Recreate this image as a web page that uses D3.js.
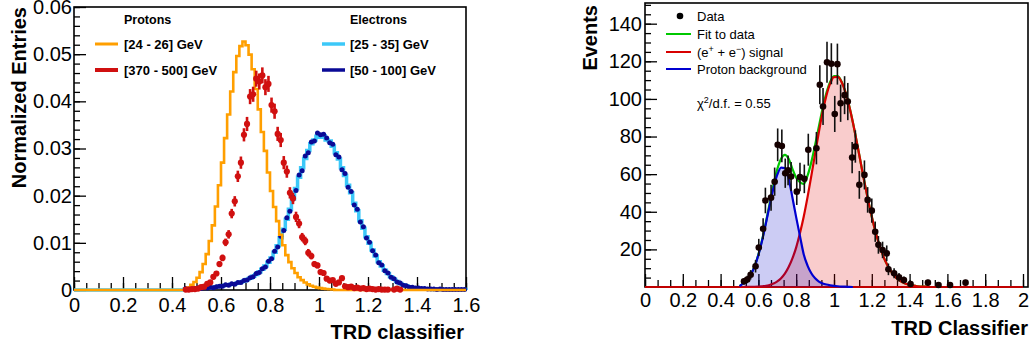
<!DOCTYPE html>
<html>
<head>
<meta charset="utf-8">
<script src="https://cdn.jsdelivr.net/npm/d3@7"></script>
<style>
html, body { margin: 0; padding: 0; background: #fff; }
svg { display: block; font-family: "Liberation Sans", Arial, Helvetica, sans-serif; }
</style>
</head>
<body>
<script>
// ---------- left panel: normalized TRD classifier histograms ----------
// all left histograms share bins of 0.0125 starting at 0.45
const binStart = 0.45;
const binWidth = 0.0125;

// protons [24 - 26] GeV (step histogram)
const protonLow = [0.0002,0.0005,0.0011,0.0017,0.0026,0.0038,0.0055,0.0076,0.0104,0.0137,
  0.0177,0.0222,0.0270,0.0322,0.0372,0.0421,0.0462,0.0496,0.0517,0.0527,
  0.0519,0.0499,0.0468,0.0426,0.0383,0.0335,0.0295,0.0249,0.0210,0.0176,
  0.0146,0.0117,0.0095,0.0074,0.0059,0.0046,0.0036,0.0027,0.0021,0.0016,
  0.0012,0.0009,0.0007,0.0005,0.0004,0.0003,0.0002,0.00015,0.0001];

// protons [370 - 500] GeV (points with errors)
const protonHigh = [0.0001,0.0001,0.0002,0.0002,0.0003,0.0006,0.0007,0.0013,0.0016,0.0028,
  0.0035,0.0055,0.0068,0.0101,0.0118,0.0162,0.0188,0.0241,0.0270,0.0329,
  0.0352,0.0410,0.0415,0.0448,0.0442,0.0455,0.0430,0.0437,0.0392,0.0379,
  0.0331,0.0318,0.0270,0.0251,0.0206,0.0194,0.0155,0.0141,0.0112,0.0104,
  0.0079,0.0072,0.0055,0.0052,0.0038,0.0036,0.0024,0.0020,0.0021,0.0013,
  0.0016,0.0025,0.0008,0.0006,0.0007,0.0004,0.0005,0.0003,0.0004,0.0002,
  0.0003,0.0002,0.0001,0.0002,0.0001,0.0001,0.0001,0,0.0001,0.0003,0.0001];
const protonHighErr = [0.0001,0.0001,0.0001,0.0001,0.0002,0.0002,0.0003,0.0004,0.0004,0.0005,
  0.0005,0.0006,0.0007,0.0008,0.0009,0.0010,0.0011,0.0012,0.0013,0.0014,
  0.0015,0.0016,0.0016,0.0017,0.0017,0.0017,0.0017,0.0017,0.0016,0.0016,
  0.0015,0.0015,0.0014,0.0013,0.0012,0.0012,0.0011,0.0010,0.0009,0.0009,
  0.0008,0.0007,0.0006,0.0006,0.0005,0.0005,0.0004,0.0004,0.0004,0.0003,
  0.0003,0.0004,0.0002,0.0002,0.0002,0.0001,0.0002,0.0001,0.0001,0.0001,
  0.0001,0.0001,0.0001,0.0001,0.0001,0.0001,0.0001,0,0.0001,0.0002,0.0001];

// electrons [25 - 35] GeV (step histogram)
const electronLow = [0.0002,0.0002,0.0003,0.0003,0.0003,0.0004,0.0004,0.0005,0.0005,0.0006,
  0.0007,0.0008,0.0009,0.0010,0.0011,0.0012,0.0013,0.0015,0.0017,0.0019,
  0.0022,0.0025,0.0029,0.0033,0.0038,0.0044,0.0051,0.0059,0.0068,0.0080,
  0.0094,0.0111,0.0129,0.0150,0.0171,0.0193,0.0215,0.0239,0.0259,0.0279,
  0.0296,0.0310,0.0318,0.0326,0.0324,0.0327,0.0318,0.0316,0.0305,0.0291,
  0.0278,0.0259,0.0243,0.0222,0.0206,0.0184,0.0168,0.0147,0.0131,0.0113,
  0.0099,0.0085,0.0072,0.0060,0.0051,0.0042,0.0035,0.0028,0.0023,0.0018,
  0.0014,0.0011,0.0009,0.0007,0.0005,0.0004,0.0003,0.0003,0.0002,0.0002,
  0.0002,0.0001,0.0001,0.0001,0.0001,0.0001,0.0001,0.0001,0.0001,0.0001,0.0001,0.0001];

// electrons [50 - 100] GeV (points)
const electronHigh = [0.0003,0.0002,0.0002,0.0003,0.0004,0.0003,0.0005,0.0004,0.0006,0.0005,
  0.0007,0.0008,0.0008,0.0011,0.0010,0.0013,0.0012,0.0016,0.0016,0.0020,
  0.0021,0.0026,0.0028,0.0035,0.0037,0.0045,0.0049,0.0061,0.0066,0.0082,
  0.0091,0.0114,0.0126,0.0153,0.0167,0.0197,0.0211,0.0244,0.0253,0.0284,
  0.0291,0.0314,0.0316,0.0333,0.0329,0.0330,0.0322,0.0312,0.0309,0.0287,
  0.0282,0.0255,0.0247,0.0218,0.0209,0.0180,0.0171,0.0144,0.0134,0.0110,
  0.0101,0.0083,0.0074,0.0058,0.0053,0.0041,0.0036,0.0027,0.0024,0.0017,
  0.0015,0.0010,0.0009,0.0006,0.0006,0.0004,0.0004,0.0003,0.0003,0.0002,
  0.0002,0.0002,0.0001,0.0002,0.0001,0.0001,0.0001,0.0001,0.0001,0.0001,0.0001,0.0001];

const leftXTicks = [0, 0.2, 0.4, 0.6, 0.8, 1, 1.2, 1.4, 1.6];
const leftYTicks = [0, 0.01, 0.02, 0.03, 0.04, 0.05, 0.06];

// ---------- right panel: fit of TRD classifier ----------
const dataX = [0.524,0.541,0.559,0.585,0.602,0.625,0.637,0.667,0.686,0.702,
  0.724,0.742,0.757,0.773,0.803,0.820,0.843,0.864,0.907,0.925,
  0.942,0.963,0.986,1.004,1.018,1.035,1.056,1.073,1.096,1.113,
  1.134,1.161,1.178,1.200,1.218,1.235,1.257,1.279,1.288,1.318,
  1.344,1.370,1.405,1.497,1.553,1.614,1.696];
const dataY = [3,4,6.5,11,21,31,46,47.5,56,75.6,
  75,60.5,62,58.7,50.7,58.5,57.5,73,73.8,107.5,
  96,119.5,118.7,92,118.5,97.7,102,98.6,68.8,74.7,
  54.3,59.6,46.3,40.6,29.4,22.4,19.7,17.9,9.4,7.3,
  5.2,3.7,1.6,2.3,1.1,1.1,2.3];
const dataErr = [1.7,2,2.5,3.3,4.6,5.6,6.8,6.9,7.5,8.7,
  8.7,7.8,7.9,7.7,7.1,7.6,7.6,8.5,8.6,10.4,
  9.8,10.9,10.9,9.6,10.9,9.9,10.1,9.9,8.3,8.6,
  7.4,7.7,6.8,6.4,5.4,4.7,4.4,4.2,3.1,2.7,
  2.3,1.9,1.3,1.5,1,1,1.5];

// fit curves sampled every 0.02
const fitGrid = d3.range(0.50, 1.5001, 0.02);
const signalFit = [0,0,0.03,0.05,0.1,0.2,0.4,0.6,1.1,1.8,
  3.0,4.7,7.1,10.6,15.2,21.1,28.7,37.5,47.8,59.1,
  70.9,82.4,93.1,101.9,108.3,111.6,111.7,109.0,103.8,96.4,
  87.5,77.4,66.9,56.3,46.4,37.3,29.1,22.4,16.6,12.1,
  8.6,5.9,4.0,2.7,1.7,1.1,0.7,0.4,0.25,0.15,0.1];
const totalFit = [0.5,2.0,3.83,6.75,11.1,17.3,25.3,34.6,44.7,54.5,
  62.7,68.2,70.3,68.2,62.8,58.1,55.7,54.8,59.2,66.4,
  75.5,85.3,95.0,103.2,109.2,112.2,112.1,109.25,103.95,96.5,
  87.5,77.4,66.9,56.3,46.4,37.3,29.1,22.4,16.6,12.1,
  8.6,5.9,4.0,2.7,1.7,1.1,0.7,0.4,0.25,0.15,0.1];
const bkgFit = [0.5,2.0,3.8,6.7,11.0,17.1,24.9,34.0,43.6,52.7,
  59.7,63.5,63.2,57.6,47.6,37.0,27.0,17.3,11.4,7.3,
  4.6,2.9,1.9,1.3,0.9,0.6,0.4,0.25,0.15,0.08,0];

const rightXTicks = [0, 0.2, 0.4, 0.6, 0.8, 1, 1.2, 1.4, 1.6, 1.8, 2];
const rightYTicks = [20, 40, 60, 80, 100, 120, 140];

// ---------- drawing ----------
const W = 1030, H = 352;
const svg = d3.select('body').append('svg').attr('width', W).attr('height', H);

const xL = d3.scaleLinear().domain([0, 1.6]).range([74, 466]);
const yL = d3.scaleLinear().domain([0, 0.06]).range([290, 7]);
const xR = d3.scaleLinear().domain([0, 2]).range([645, 1023]);
const yR = d3.scaleLinear().domain([0, 151]).range([287, 3]);

const fmt = d3.format('~g');

function styleAxis(sel, size) {
  sel.select('.domain').remove();
  sel.selectAll('line').attr('stroke', '#000').attr('stroke-width', 1.3);
  sel.selectAll('text').attr('font-size', size).attr('fill', '#000')
    .attr('font-family', '"Liberation Sans", Arial, Helvetica, sans-serif');
}

function drawFrame(x, y, opt) {
  const [x0, x1] = x.range();
  const [y0, y1] = y.range();
  const g = svg.append('g');
  g.append('g').attr('transform', `translate(0,${y0})`)
    .call(d3.axisBottom(x).tickValues(opt.minorX).tickSize(-7).tickFormat(''))
    .call(s => styleAxis(s, 20));
  g.append('g').attr('transform', `translate(0,${y0})`)
    .call(d3.axisBottom(x).tickValues(opt.majorX).tickSize(-13).tickPadding(opt.xPad).tickFormat(fmt))
    .call(s => styleAxis(s, 20));
  g.append('g').attr('transform', `translate(${x0},0)`)
    .call(d3.axisLeft(y).tickValues(opt.minorY).tickSize(-6).tickFormat(''))
    .call(s => styleAxis(s, 20));
  g.append('g').attr('transform', `translate(${x0},0)`)
    .call(d3.axisLeft(y).tickValues(opt.majorY).tickSize(-12).tickPadding(opt.yPad).tickFormat(opt.yFmt))
    .call(s => styleAxis(s, 20));
  g.append('rect').attr('x', x0).attr('y', y1).attr('width', x1 - x0 + opt.extraRight)
    .attr('height', y0 - y1).attr('fill', 'none').attr('stroke', '#000').attr('stroke-width', 1.6);
}

// left frame
drawFrame(xL, yL, {
  majorX: leftXTicks, minorX: d3.range(0, 1.601, 0.05),
  majorY: leftYTicks, minorY: d3.range(0, 0.0601, 0.002),
  xPad: 8, yPad: 2, extraRight: 0,
  yFmt: d => d === 0 ? '0' : d3.format('.2f')(d)
});
// right frame
drawFrame(xR, yR, {
  majorX: rightXTicks, minorX: d3.range(0, 2.001, 0.2 / 3),
  majorY: rightYTicks, minorY: d3.range(5, 151, 5),
  xPad: 6, yPad: 3, extraRight: 5,
  yFmt: fmt
});

// ---- left panel marks
function histPoints(values) {
  const pts = [[xL.domain()[0], 0], [binStart, 0]];
  values.forEach((v, i) => {
    pts.push([binStart + i * binWidth, v]);
    pts.push([binStart + (i + 1) * binWidth, v]);
  });
  pts.push([binStart + values.length * binWidth, 0]);
  pts.push([xL.domain()[1], 0]);
  return pts;
}
const stepLine = d3.line().x(d => xL(d[0])).y(d => yL(d[1]));
const binCenter = i => binStart + (i + 0.5) * binWidth;

svg.append('path').attr('d', stepLine(histPoints(electronLow)))
  .attr('fill', 'none').attr('stroke', '#3cc8f8').attr('stroke-width', 3.5);

svg.append('g').selectAll('circle').data(electronHigh).join('circle')
  .attr('cx', (d, i) => xL(binCenter(i))).attr('cy', d => yL(d)).attr('r', 2.5)
  .attr('fill', '#0a0a96');

svg.append('path').attr('d', stepLine(histPoints(protonLow)))
  .attr('fill', 'none').attr('stroke', '#ff9f00').attr('stroke-width', 2.6);

const redPts = protonHigh.map((v, i) => ({ x: binCenter(i), y: v, e: protonHighErr[i] })).filter(d => d.y > 0);
const redG = svg.append('g');
redG.selectAll('line').data(redPts).join('line')
  .attr('x1', d => xL(d.x)).attr('x2', d => xL(d.x))
  .attr('y1', d => yL(d.y - d.e)).attr('y2', d => yL(d.y + d.e))
  .attr('stroke', '#d01010').attr('stroke-width', 2.6);
redG.selectAll('circle').data(redPts).join('circle')
  .attr('cx', d => xL(d.x)).attr('cy', d => yL(d.y)).attr('r', 3.1)
  .attr('fill', '#d01010');

// left legend
const legL = svg.append('g').attr('font-weight', 'bold').attr('fill', '#000');
legL.append('text').attr('x', 124).attr('y', 24).attr('font-size', 12.5).text('Protons');
legL.append('text').attr('x', 124).attr('y', 49).attr('font-size', 13).text('[24 - 26] GeV');
legL.append('text').attr('x', 124).attr('y', 75).attr('font-size', 13).text('[370 - 500] GeV');
legL.append('line').attr('x1', 95).attr('x2', 118).attr('y1', 44).attr('y2', 44).attr('stroke', '#ff9f00').attr('stroke-width', 3);
legL.append('line').attr('x1', 95).attr('x2', 118).attr('y1', 70).attr('y2', 70).attr('stroke', '#d01010').attr('stroke-width', 4);
legL.append('text').attr('x', 350).attr('y', 24).attr('font-size', 12.5).text('Electrons');
legL.append('text').attr('x', 350).attr('y', 49).attr('font-size', 13).text('[25 - 35] GeV');
legL.append('text').attr('x', 350).attr('y', 75).attr('font-size', 13).text('[50 - 100] GeV');
legL.append('line').attr('x1', 322).attr('x2', 345).attr('y1', 44).attr('y2', 44).attr('stroke', '#3cc8f8').attr('stroke-width', 3.5);
legL.append('line').attr('x1', 322).attr('x2', 345).attr('y1', 70).attr('y2', 70).attr('stroke', '#0a0a96').attr('stroke-width', 3.5);

// left axis titles
svg.append('text').attr('transform', 'translate(26,7) rotate(-90)').attr('text-anchor', 'end')
  .attr('font-size', 20).attr('font-weight', 'bold').text('Normalized Entries');
svg.append('text').attr('x', 464).attr('y', 339).attr('text-anchor', 'end')
  .attr('font-size', 20).attr('font-weight', 'bold').text('TRD classifier');

// ---- right panel marks
const fitLine = vals => d3.line().curve(d3.curveMonotoneX)
  .x((d, i) => xR(fitGrid[i])).y(d => yR(d))(vals);
const fitArea = vals => d3.area().curve(d3.curveMonotoneX)
  .x((d, i) => xR(fitGrid[i])).y0(yR(0)).y1(d => yR(d))(vals);

// signal component (zero outside the sampled range)
svg.append('path').attr('d', fitArea(signalFit)).attr('fill', '#e00000').attr('fill-opacity', 0.2);
svg.append('path').attr('d', fitLine(totalFit)).attr('fill', 'none').attr('stroke', '#00c800').attr('stroke-width', 2.2);
svg.append('line').attr('x1', xR(0)).attr('x2', xR(2)).attr('y1', yR(0)).attr('y2', yR(0))
  .attr('stroke', '#c00000').attr('stroke-width', 2);
svg.append('path').attr('d', fitLine(signalFit)).attr('fill', 'none').attr('stroke', '#d80000').attr('stroke-width', 2.2);
svg.append('path').attr('d', fitArea(bkgFit)).attr('fill', '#0000c8').attr('fill-opacity', 0.2);
svg.append('path').attr('d', fitLine(bkgFit)).attr('fill', 'none').attr('stroke', '#0000d0').attr('stroke-width', 2.2);

const dataG = svg.append('g');
dataG.selectAll('line').data(dataX).join('line')
  .attr('x1', d => xR(d)).attr('x2', d => xR(d))
  .attr('y1', (d, i) => yR(Math.max(0, dataY[i] - dataErr[i])))
  .attr('y2', (d, i) => yR(dataY[i] + dataErr[i]))
  .attr('stroke', '#111').attr('stroke-width', 1.6);
dataG.selectAll('circle').data(dataX).join('circle')
  .attr('cx', d => xR(d)).attr('cy', (d, i) => yR(dataY[i])).attr('r', 3.3)
  .attr('fill', '#150000');

// right legend
const legR = svg.append('g').attr('font-size', 13).attr('fill', '#000');
legR.append('circle').attr('cx', 680).attr('cy', 16).attr('r', 3.3).attr('fill', '#000');
legR.append('text').attr('x', 697).attr('y', 21).text('Data');
legR.append('line').attr('x1', 666).attr('x2', 691).attr('y1', 34).attr('y2', 34).attr('stroke', '#00c800').attr('stroke-width', 2);
legR.append('text').attr('x', 697).attr('y', 39).text('Fit to data');
legR.append('line').attr('x1', 666).attr('x2', 691).attr('y1', 52).attr('y2', 52).attr('stroke', '#d80000').attr('stroke-width', 2);
const sig = legR.append('text').attr('x', 697).attr('y', 57);
sig.append('tspan').text('(e');
sig.append('tspan').attr('font-size', 9).attr('dy', -5).text('+');
sig.append('tspan').attr('dy', 5).text(' + e');
sig.append('tspan').attr('font-size', 9).attr('dy', -5).text('\u2212');
sig.append('tspan').attr('dy', 5).text(') signal');
legR.append('line').attr('x1', 666).attr('x2', 691).attr('y1', 69).attr('y2', 69).attr('stroke', '#0000d0').attr('stroke-width', 2);
legR.append('text').attr('x', 697).attr('y', 74).text('Proton background');

const chi = legR.append('text').attr('x', 697).attr('y', 108);
chi.append('tspan').text('\u03c7');
chi.append('tspan').attr('font-size', 9).attr('dy', -5).text('2');
chi.append('tspan').attr('dy', 5).text('/d.f. = 0.55');

// right axis titles
svg.append('text').attr('transform', 'translate(597,5) rotate(-90)').attr('text-anchor', 'end')
  .attr('font-size', 20).attr('font-weight', 'bold').text('Events');
svg.append('text').attr('x', 1028).attr('y', 335).attr('text-anchor', 'end')
  .attr('font-size', 20).attr('font-weight', 'bold').text('TRD Classifier');
</script>
</body>
</html>
